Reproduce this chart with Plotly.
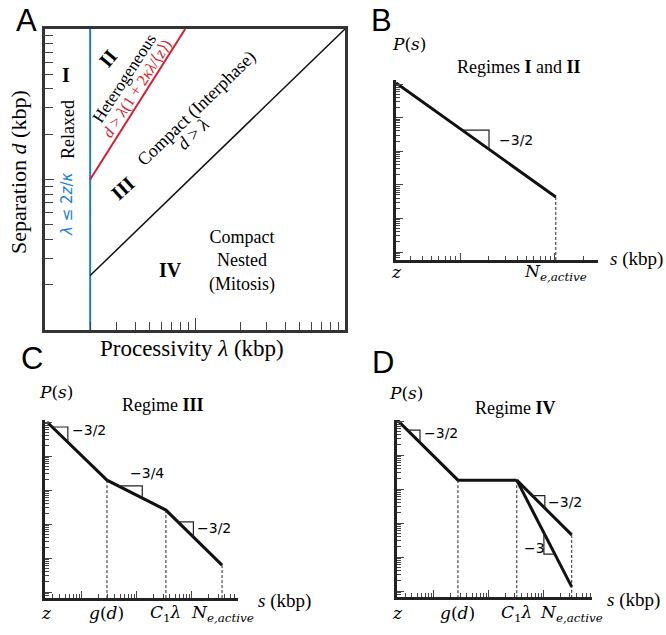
import numpy as np
import plotly.graph_objects as go

W, H = 666, 635
SERIF = "Liberation Serif"
SANS = "Liberation Sans"
MATHS = "DejaVu Sans"
MSERIF = "DejaVu Serif"

# ---------------- data ----------------
# Panel A: phase diagram (kbp, log-log)
lam_relaxed = [2, 2]
d_relaxed = [1, 100]
lam_het = [2, 8.6]
d_het = [10, 100]
lam_comp = [2, 100]
d_comp = [2.3, 100]

# Panel B: regimes I and II
s_B = [2.12, 102]
P_B = [1.07e5, 43.6]
triB_s = [10.5, 20.2]
ticklab_B = ["<i>z</i>", "<i>N</i><sub><i>e,active</i></sub>"]

# Panel C: regime III
s_C = [2.34, 28.8, 339, 3550]
P_C = [1.0e5, 1.95e3, 257, 6.2]
triC_s = [[2.9, 5.6], [46, 126], [560, 1070]]
triC_lbl = ["\u22123/2", "\u22123/4", "\u22123/2"]

# Panel D: regime IV
s_D = [2.16, 27.5, 324, 3240]
P_D = [1.07e5, 1.82e3, 1.82e3]
P_D_ends = [44.7, 1.32]
triD_s = [[3.3, 5.6], [620, 1050], [1010, 1600]]
triD_lbl = ["\u22123/2", "\u22123/2", "\u22123"]

ticklab_CD = ["<i>z</i>", "<i>g</i>(<i>d</i>)", "<i>C</i><sub>1</sub><i>\u03bb</i>",
              "<i>N</i><sub><i>e,active</i></sub>"]

# ---------------- helpers ----------------
def dx(a, b):
    return [a / W, b / W]

def dy(top, bottom):
    return [1 - bottom / H, 1 - top / H]

def interp(s, sa, Pa, sb, Pb):
    t = (np.log10(s) - np.log10(sa)) / (np.log10(sb) - np.log10(sa))
    return 10 ** (np.log10(Pa) + t * (np.log10(Pb) - np.log10(Pa)))

fig = go.Figure()
ann = []

def txt(x, y, text, size=16, color="black", angle=0, family=SERIF, xanchor="center", **kw):
    ann.append(dict(x=x / W, y=1 - y / H, xref="paper", yref="paper", text=text,
                    showarrow=False, font=dict(size=size, color=color, family=family),
                    textangle=angle, xanchor=xanchor, yanchor="middle", **kw))

def line(xs, ys, ax, color="#111", width=3, dash="solid"):
    fig.add_trace(go.Scatter(x=xs, y=ys, mode="lines", xaxis=ax[0], yaxis=ax[1],
                             line=dict(color=color, width=width, dash=dash),
                             hoverinfo="skip", showlegend=False))

def tri_above(s0, s1, sa, Pa, sb, Pb, ax):
    p0 = interp(s0, sa, Pa, sb, Pb)
    p1 = interp(s1, sa, Pa, sb, Pb)
    line([s0, s1, s1], [p0, p0, p1], ax, color="#222", width=1.2)

def tri_below(s0, s1, sa, Pa, sb, Pb, ax):
    p0 = interp(s0, sa, Pa, sb, Pb)
    p1 = interp(s1, sa, Pa, sb, Pb)
    line([s0, s0, s1], [p0, p1, p1], ax, color="#222", width=1.2)

def logaxis(rng, dom, anchor, mirror=False, lw=3, lc="#222", tl=7, mtl=4):
    return dict(type="log", range=rng, domain=dom, anchor=anchor, showgrid=False,
                zeroline=False, showline=True, linewidth=lw, linecolor=lc, mirror=mirror,
                ticks="inside", ticklen=tl, tickwidth=1, tickcolor="#444", dtick=1,
                showticklabels=False,
                minor=dict(ticks="inside", ticklen=mtl, tickwidth=1, tickcolor="#444",
                           dtick="D1", showgrid=False))

# axis geometry (pixels) and log ranges
XA = dict(A=(45, 345, [0, 2]), B=(396, 598, [0.326, 2.453]),
          C=(45, 238, [0.333, 3.84]), D=(397, 592, [0.33, 3.88]))
yB = [-0.238, 5.12]
yC = [-0.176, 5.06]
yD = [-0.176, 5.03]

# ---------------- Panel A ----------------
A = ("x", "y")
line(lam_relaxed, d_relaxed, A, color="#1b7fd6", width=2)
line(lam_het, d_het, A, color="#d4202c", width=2)
line(lam_comp, d_comp, A, color="#111", width=1.5)

# ---------------- Panel B ----------------
B = ("x2", "y2")
line(s_B, P_B, B)
line([s_B[-1], s_B[-1]], [P_B[-1], 10 ** yB[0]], B, color="#222", width=1, dash="3px,2px")
tri_above(triB_s[0], triB_s[1], s_B[0], P_B[0], s_B[1], P_B[1], B)

# ---------------- Panel C ----------------
C = ("x3", "y3")
line(s_C, P_C, C)
for i in (1, 2, 3):
    line([s_C[i], s_C[i]], [P_C[i], 10 ** yC[0]], C, color="#222", width=1, dash="3px,2px")
for k, (a, b) in enumerate(triC_s):
    tri_above(a, b, s_C[k], P_C[k], s_C[k + 1], P_C[k + 1], C)

# ---------------- Panel D ----------------
D = ("x4", "y4")
line(s_D[:3], P_D, D)
line([s_D[2], s_D[3]], [P_D[2], P_D_ends[0]], D)
line([s_D[2], s_D[3]], [P_D[2], P_D_ends[1]], D)
line([s_D[1], s_D[1]], [P_D[1], 10 ** yD[0]], D, color="#222", width=1, dash="3px,2px")
line([s_D[2], s_D[2]], [P_D[2], 10 ** yD[0]], D, color="#222", width=1, dash="3px,2px")
line([s_D[3], s_D[3]], [P_D_ends[0], 10 ** yD[0]], D, color="#222", width=1, dash="3px,2px")
tri_above(triD_s[0][0], triD_s[0][1], s_D[0], P_D[0], s_D[1], P_D[1], D)
tri_above(triD_s[1][0], triD_s[1][1], s_D[2], P_D[2], s_D[3], P_D_ends[0], D)
tri_below(triD_s[2][0], triD_s[2][1], s_D[2], P_D[2], s_D[3], P_D_ends[1], D)

# ---------------- text: panel A ----------------
txt(26, 21, "A", size=31, family=SANS)
txt(66, 75, "<b>I</b>", size=20)
txt(68, 130, "Relaxed", size=18, angle=-90)
txt(67, 205, "<i>\u03bb</i> \u2264 2<i>z</i>/<i>\u03ba</i>", size=15, angle=-90,
    color="#1b7fd6", family=MATHS)
txt(108, 58, "<b>II</b>", size=20, angle=-50)
txt(124, 78, "Heterogeneous", size=17, angle=-57)
txt(137, 89, "<i>d</i> > <i>\u03bb</i>(1 + 2<i>\u03ba\u03bb</i>/\u27e8<i>z</i>\u27e9)", size=16,
    angle=-57, color="#d4202c")
txt(123, 188, "<b>III</b>", size=20, angle=-42)
txt(197, 109, "Compact (Interphase)", size=18, angle=-44)
txt(193, 134, "<i>d</i> > <i>\u03bb</i>", size=18, angle=-44)
txt(170, 270, "<b>IV</b>", size=20)
txt(242, 261, "Compact<br>Nested<br>(Mitosis)", size=18)
txt(192, 348, "Processivity <i>\u03bb</i> (kbp)", size=23)
txt(18, 172, "Separation <i>d</i> (kbp)", size=22, angle=-90)

# ---------------- text: panel B ----------------
txt(382, 21, "B", size=31, family=SANS)
txt(409, 44, "<i>P</i>(<i>s</i>)", size=17, family=MSERIF)
txt(519, 67, "Regimes <b>I</b> and <b>II</b>", size=18)
txt(497, 140, "\u22123/2", size=14, family=MATHS, xanchor="left")
txt(665, 259, "<i>s</i> (kbp)", size=19, xanchor="right")

# ---------------- text: panel C ----------------
txt(32, 358, "C", size=31, family=SANS)
txt(56, 392, "<i>P</i>(<i>s</i>)", size=17, family=MSERIF)
txt(163, 405, "Regime <b>III</b>", size=18)
txt(313, 601, "<i>s</i> (kbp)", size=19, xanchor="right")
for (px, py), lab in zip([(70, 430), (128, 473), (195, 528)], triC_lbl):
    txt(px, py, lab, size=14, family=MATHS, xanchor="left")

# ---------------- text: panel D ----------------
txt(383, 362, "D", size=31, family=SANS)
txt(406, 393, "<i>P</i>(<i>s</i>)", size=17, family=MSERIF)
txt(515, 408, "Regime <b>IV</b>", size=18)
txt(662, 600, "<i>s</i> (kbp)", size=19, xanchor="right")
for (px, py), lab in zip([(422, 433), (546, 502), (522, 548)], triD_lbl):
    txt(px, py, lab, size=14, family=MATHS, xanchor="left")

# ---------------- tick-like labels under B, C, D ----------------
def under(key, svals, labels, ypx):
    x0, x1, rng = XA[key]
    for s, lab in zip(svals, labels):
        px = x0 + (np.log10(s) - rng[0]) / (rng[1] - rng[0]) * (x1 - x0)
        txt(px, ypx, lab, size=17, family=MSERIF)

under("B", [s_B[0], s_B[-1]], ticklab_B, 272)
under("C", s_C, ticklab_CD, 613)
under("D", s_D, ticklab_CD, 613)

# ---------------- layout ----------------
fig.update_layout(
    width=W, height=H, margin=dict(l=0, r=0, t=0, b=0),
    paper_bgcolor="white", plot_bgcolor="white", showlegend=False,
    annotations=ann,
    xaxis=logaxis(XA["A"][2], dx(*XA["A"][:2]), "y", mirror=True, lc="#333", tl=12, mtl=8),
    yaxis=logaxis([0, 2], dy(29, 330), "x", mirror=True, lc="#333", tl=9, mtl=8),
    xaxis2=logaxis(XA["B"][2], dx(*XA["B"][:2]), "y2"),
    yaxis2=logaxis(yB, dy(80, 260), "x2"),
    xaxis3=logaxis(XA["C"][2], dx(*XA["C"][:2]), "y3"),
    yaxis3=logaxis(yC, dy(420, 598), "x3"),
    xaxis4=logaxis(XA["D"][2], dx(*XA["D"][:2]), "y4"),
    yaxis4=logaxis(yD, dy(420, 597), "x4"),
)

fig.write_html("out.html", config={"displayModeBar": False},
               post_script="document.body.style.margin='0';document.body.style.padding='0';")
